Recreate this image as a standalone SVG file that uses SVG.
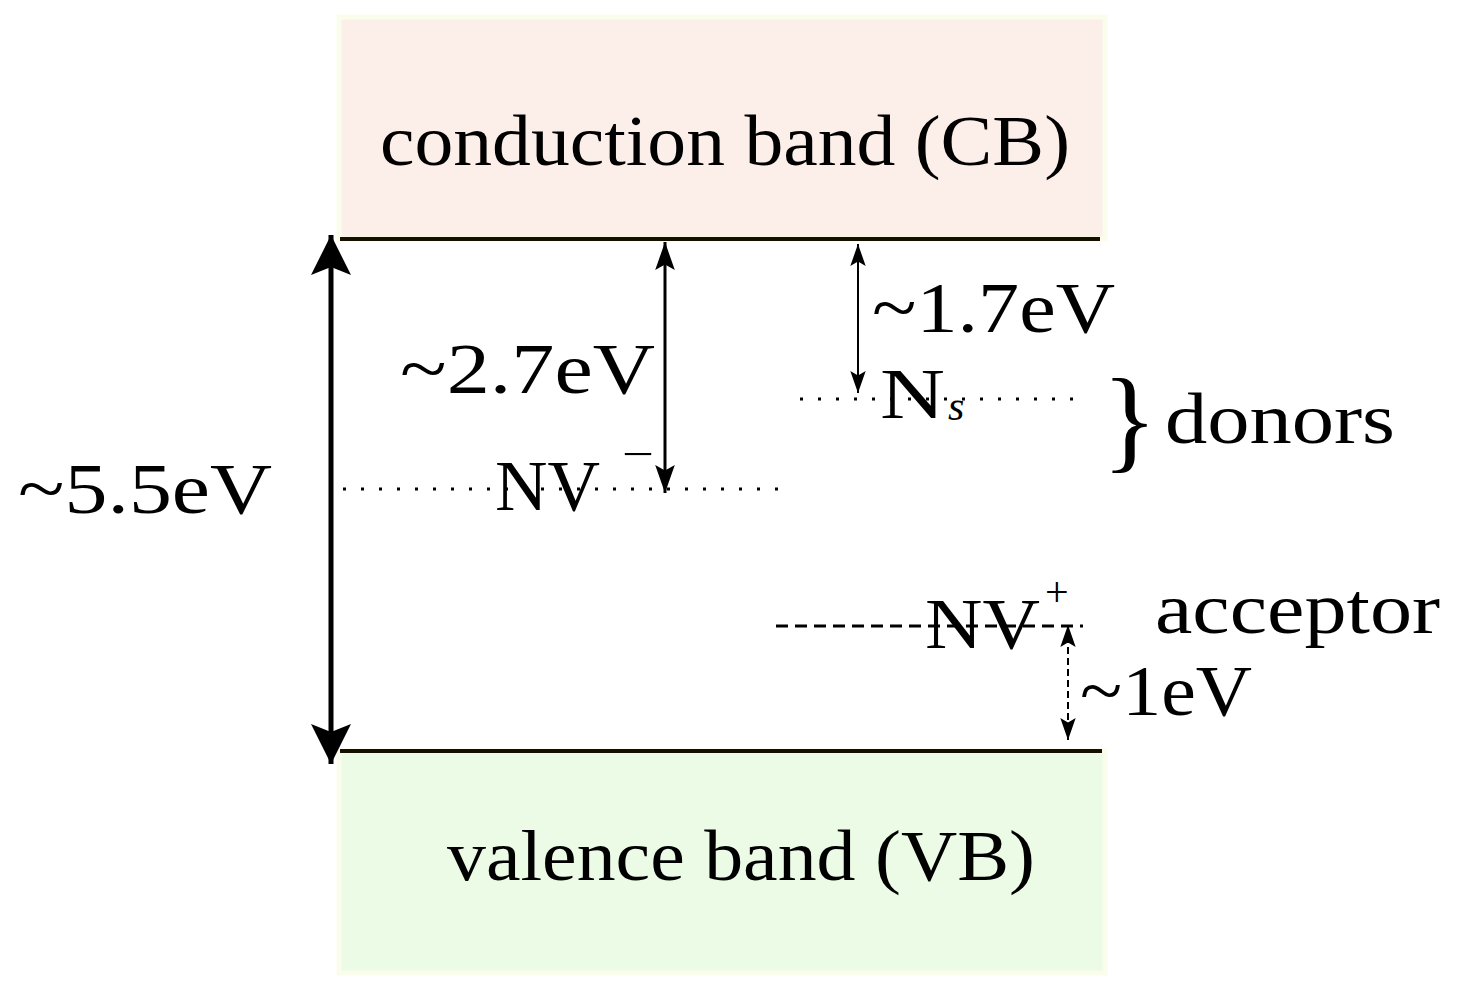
<svg xmlns="http://www.w3.org/2000/svg" width="1476" height="1004" viewBox="0 0 1476 1004">
<style>
text{font-family:"Liberation Serif","Times New Roman",serif;font-size:72px;fill:#000}
.sup{font-size:42px}
.lvl{stroke:#000;stroke-width:3;fill:none}
.band{stroke:#150f00;stroke-width:4}
</style>
<defs>
<marker id="aB" viewBox="0 0 10 10" refX="10" refY="5" markerWidth="40" markerHeight="40" markerUnits="userSpaceOnUse" orient="auto-start-reverse"><path d="M0,0 L10,5 L0,10 L2,5 z"/></marker>
<marker id="am" viewBox="0 0 10 10" refX="10" refY="5" markerWidth="28" markerHeight="28" markerUnits="userSpaceOnUse" orient="auto-start-reverse"><path d="M0,1.5 L10,5 L0,8.5 L2,5 z"/></marker>
<marker id="as" viewBox="0 0 10 10" refX="10" refY="5" markerWidth="22" markerHeight="22" markerUnits="userSpaceOnUse" orient="auto-start-reverse"><path d="M0,1.5 L10,5 L0,8.5 L2,5 z"/></marker>
</defs>
<g id="cb">
<rect x="339" y="17" width="766" height="222" fill="#fcefea" stroke="#fbfdec" stroke-width="5"/>
<line class="band" x1="340" y1="239" x2="1100" y2="239"/>
<text x="380" y="165" textLength="690" lengthAdjust="spacingAndGlyphs">conduction band (CB)</text>
</g>
<g id="vb">
<rect x="339" y="751" width="766" height="222" fill="#ebfbe6" stroke="#fbfdec" stroke-width="5"/>
<line class="band" x1="340" y1="751" x2="1102" y2="751"/>
<text x="447" y="880" textLength="588" lengthAdjust="spacingAndGlyphs">valence band (VB)</text>
</g>
<g id="nvminus">
<line class="lvl" x1="343" y1="489" x2="782" y2="489" stroke-dasharray="3 15"/>
<text x="495" y="510" textLength="105" lengthAdjust="spacingAndGlyphs">NV</text>
<text class="sup" x="622" y="468" textLength="32" lengthAdjust="spacingAndGlyphs">−</text>
</g>
<g id="ns">
<line class="lvl" x1="800" y1="399" x2="1075" y2="399" stroke-dasharray="3 15"/>
<text x="880" y="418" textLength="65" lengthAdjust="spacingAndGlyphs">N</text>
<text class="sup" x="948" y="420" font-style="italic">s</text>
</g>
<g id="nvplus">
<line class="lvl" x1="776" y1="626" x2="1083" y2="626" stroke-dasharray="12 7"/>
<text x="925" y="648" textLength="115" lengthAdjust="spacingAndGlyphs">NV</text>
<text class="sup" x="1045" y="606">+</text>
</g>
<g id="labels">
<text x="1102" y="458" style="font-size:115px">}</text>
<text x="1165" y="443" textLength="230" lengthAdjust="spacingAndGlyphs">donors</text>
<text x="1155" y="633" textLength="285" lengthAdjust="spacingAndGlyphs">acceptor</text>
</g>
<g id="connectors">
<line x1="331" y1="235" x2="331" y2="764" stroke="#000" stroke-width="5" marker-start="url(#aB)" marker-end="url(#aB)"/>
<line x1="665" y1="242" x2="665" y2="493" stroke="#000" stroke-width="3" marker-start="url(#am)" marker-end="url(#am)"/>
<line x1="858" y1="244" x2="858" y2="393" stroke="#000" stroke-width="2" marker-start="url(#as)" marker-end="url(#as)"/>
<line x1="1068" y1="625" x2="1068" y2="740" stroke="#000" stroke-width="2" stroke-dasharray="7 4" marker-start="url(#as)" marker-end="url(#as)"/>
<text x="18" y="513" textLength="254" lengthAdjust="spacingAndGlyphs">~5.5eV</text>
<text x="400" y="393" textLength="255" lengthAdjust="spacingAndGlyphs">~2.7eV</text>
<text x="872" y="332" textLength="243" lengthAdjust="spacingAndGlyphs">~1.7eV</text>
<text x="1080" y="715" textLength="172" lengthAdjust="spacingAndGlyphs">~1eV</text>
</g>
</svg>
